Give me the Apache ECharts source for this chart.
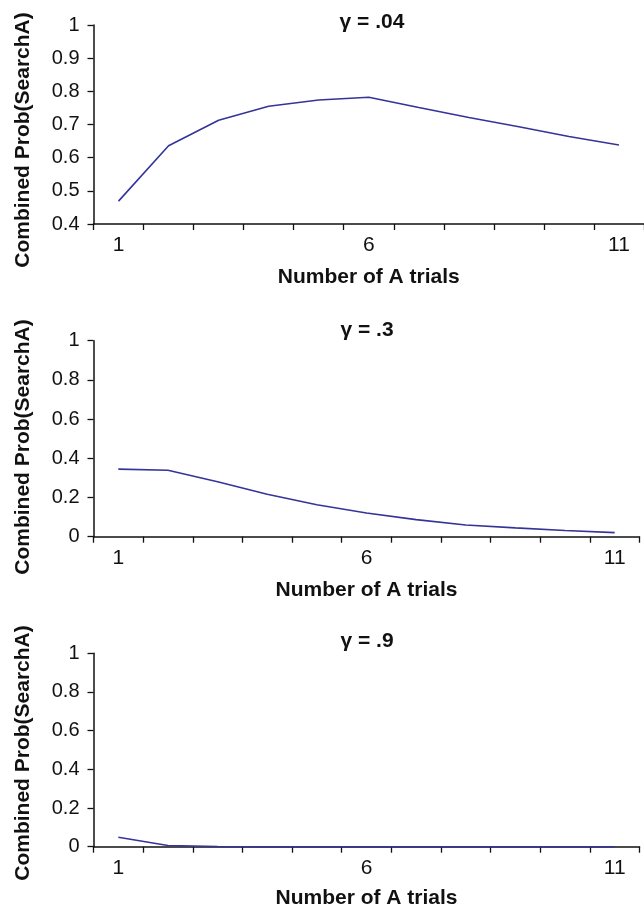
<!DOCTYPE html>
<html>
<head>
<meta charset="utf-8">
<script src="https://cdn.jsdelivr.net/npm/echarts@6/dist/echarts.min.js"></script>
<style>
  html, body { margin: 0; padding: 0; background: #fff; }
  #main { width: 644px; height: 911px; }
</style>
</head>
<body>
<div id="main"></div>
<script>
// number of A trials
var trials = ['1', '2', '3', '4', '5', '6', '7', '8', '9', '10', '11'];

// combined prob(SearchA) per gamma
var gammaLabels = ['γ = .04', 'γ = .3', 'γ = .9'];
var probG04 = [0.469, 0.636, 0.713, 0.755, 0.774, 0.782, 0.751, 0.721, 0.693, 0.664, 0.638];
var probG3 = [0.345, 0.339, 0.280, 0.217, 0.163, 0.121, 0.087, 0.060, 0.045, 0.032, 0.021];
var probG9 = [0.049, 0.006, 0.001, 0, 0, 0, 0, 0, 0, 0, 0];

var yMins = [0.4, 0, 0];
var yMaxs = [1, 1, 1];
var ySteps = [0.1, 0.2, 0.2];

var FONT = "'Liberation Sans', Arial, sans-serif";
var INK = '#111';
var LINE = '#34349a';

// panel boxes
var panels = [
  { left: 93.5, top: 25, width: 557.7, height: 199, nameGap: 43, titleX: 372, titleY: 22, yNameY: 140 },
  { left: 93.5, top: 340.7, width: 546, height: 196, nameGap: 43, titleX: 367, titleY: 330, yNameY: 447 },
  { left: 93.5, top: 653.3, width: 546, height: 193.4, nameGap: 41, titleX: 367, titleY: 641, yNameY: 753 }
];

var seriesData = [probG04, probG3, probG9];

var chart = echarts.init(document.getElementById('main'), null, { renderer: 'canvas' });

var grids = [], xAxes = [], yAxes = [], series = [], texts = [];

panels.forEach(function (p, i) {
  grids.push({ left: p.left, top: p.top, width: p.width, height: p.height, containLabel: false });

  xAxes.push({
    type: 'category',
    gridIndex: i,
    data: trials,
    boundaryGap: true,
    name: 'Number of A trials',
    nameLocation: 'middle',
    nameGap: p.nameGap,
    nameTextStyle: { fontFamily: FONT, fontWeight: 'bold', fontSize: 21, color: INK },
    axisLine: { lineStyle: { color: INK, width: 1.5 } },
    axisTick: { show: true, interval: 0, length: 6, lineStyle: { color: INK, width: 1.3 } },
    axisLabel: { interval: 4, margin: 11, fontFamily: FONT, fontSize: 21, color: INK },
    splitLine: { show: false }
  });

  yAxes.push({
    type: 'value',
    gridIndex: i,
    min: yMins[i],
    max: yMaxs[i],
    interval: ySteps[i],
    axisLine: { show: true, lineStyle: { color: INK, width: 1.5 } },
    axisTick: { show: true, length: 6, lineStyle: { color: INK, width: 1.3 } },
    axisLabel: { margin: 14, fontFamily: FONT, fontSize: 20, color: INK },
    splitLine: { show: false }
  });

  series.push({
    type: 'line',
    xAxisIndex: i,
    yAxisIndex: i,
    data: seriesData[i],
    showSymbol: false,
    symbol: 'none',
    lineStyle: { color: LINE, width: 1.6 },
    clip: false
  });

  // panel title
  texts.push({
    type: 'text',
    x: p.titleX,
    y: p.titleY,
    style: {
      text: gammaLabels[i],
      font: 'bold 21px ' + FONT,
      fill: INK,
      textAlign: 'center',
      textVerticalAlign: 'middle'
    }
  });

  // y axis name
  texts.push({
    type: 'text',
    x: 23,
    y: p.yNameY,
    rotation: Math.PI / 2,
    style: {
      text: 'Combined Prob(SearchA)',
      font: 'bold 21px ' + FONT,
      fill: INK,
      textAlign: 'center',
      textVerticalAlign: 'middle'
    }
  });
});

chart.setOption({
  animation: false,
  backgroundColor: '#fff',
  grid: grids,
  xAxis: xAxes,
  yAxis: yAxes,
  series: series,
  graphic: { elements: texts }
});
</script>
</body>
</html>
